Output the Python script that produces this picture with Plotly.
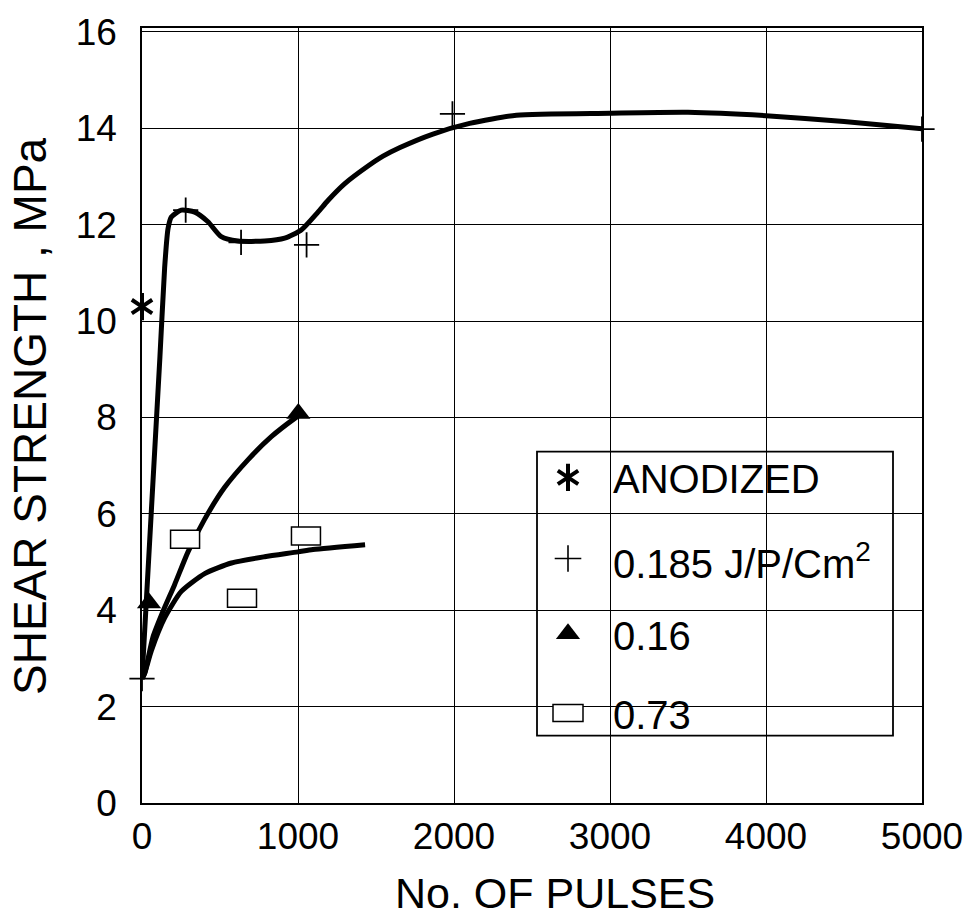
import plotly.graph_objects as go

# ---------------- data ----------------
# measured points
anod_x = [0]
anod_y = [10.3]

p185_x = [0, 280, 635, 1055, 1990, 5000]
p185_y = [2.58, 12.3, 11.63, 11.58, 14.3, 13.98]

p16_x = [45, 1002]
p16_y = [4.15, 8.08]

p73_x = [276, 641, 1051]
p73_y = [5.47, 4.25, 5.54]

# hand-drawn fit curves
c185_x = [0, 115, 145, 167, 188, 252, 338, 423, 508, 615, 786, 915, 1021, 1128, 1192, 1300, 1442, 1545, 1654, 1865, 2100, 2400, 3000, 3500, 4000, 4500, 5000]
c185_y = [2.58, 9.26, 11.1, 11.92, 12.16, 12.3, 12.26, 12.06, 11.75, 11.66, 11.66, 11.72, 11.89, 12.26, 12.5, 12.85, 13.2, 13.42, 13.6, 13.88, 14.1, 14.27, 14.31, 14.33, 14.26, 14.14, 13.99]

c16_x = [0, 17, 70, 135, 209, 295, 402, 530, 679, 829, 979, 1002]
c16_y = [2.58, 2.69, 3.44, 3.98, 4.53, 5.21, 5.89, 6.55, 7.12, 7.6, 7.98, 8.03]

c73_x = [0, 17, 60, 145, 252, 402, 573, 786, 1000, 1096, 1430]
c73_y = [2.58, 2.69, 3.16, 3.84, 4.39, 4.76, 4.98, 5.11, 5.21, 5.26, 5.36]

# axes / labels
x_ticks = [0, 1000, 2000, 3000, 4000, 5000]
y_ticks = [0, 2, 4, 6, 8, 10, 12, 14, 16]
legend_labels = ["ANODIZED", "0.185 J/P/Cm<sup>2</sup>", "0.16", "0.73"]
x_title = "No. OF PULSES"
y_title = "SHEAR STRENGTH , MPa"

FONT = "Liberation Sans, Arial, Helvetica, sans-serif"
INK = "black"

fig = go.Figure()

# curves
for cx, cy in [(c185_x, c185_y), (c16_x, c16_y), (c73_x, c73_y)]:
    fig.add_trace(go.Scatter(x=cx, y=cy, mode="lines",
                             line=dict(color=INK, width=5, shape="spline", smoothing=0.6),
                             showlegend=False, hoverinfo="skip", cliponaxis=False))

# markers
fig.add_trace(go.Scatter(x=p185_x, y=p185_y, mode="markers",
                         marker=dict(symbol="cross-thin-open", size=18, color=INK,
                                     line=dict(color=INK, width=1.8)),
                         showlegend=False, cliponaxis=False))
fig.add_trace(go.Scatter(x=p16_x, y=p16_y, mode="markers",
                         marker=dict(symbol="triangle-up", size=21, color=INK),
                         showlegend=False, cliponaxis=False))
for sym in ["y-up-open", "y-down-open"]:
    fig.add_trace(go.Scatter(x=anod_x, y=anod_y, mode="markers",
                             marker=dict(symbol=sym, size=17, color=INK,
                                         line=dict(color=INK, width=4)),
                             showlegend=False, cliponaxis=False))

# open rectangles for the 0.73 series (anchored at data values)
shapes = []
for xv, yv in zip(p73_x, p73_y):
    shapes.append(dict(type="rect", xref="x", yref="y",
                       xsizemode="pixel", ysizemode="pixel",
                       xanchor=xv, yanchor=yv,
                       x0=-14.5, x1=14.5, y0=-9, y1=9,
                       line=dict(color=INK, width=1.5), fillcolor="white",
                       layer="above"))

# ---------------- custom legend ----------------
W, H = 780.0, 783.0          # plot area size in px
X0, Y0 = 142.0, 803.0        # plot area left / bottom in px
def px(x):
    return (x - X0) / W
def py(y):
    return (Y0 - y) / H

shapes.append(dict(type="rect", xref="paper", yref="paper",
                   x0=px(537), x1=px(893), y0=py(735), y1=py(448),
                   line=dict(color=INK, width=1.8), fillcolor="white", layer="between"))

row_px = [474, 556, 632, 712]
sym_x = px(568)
# legend symbols on an overlay axis spanning [0,1]
for sym in ["y-up-open", "y-down-open"]:
    fig.add_trace(go.Scatter(x=[sym_x], y=[py(row_px[0])], xaxis="x2", yaxis="y2",
                             mode="markers", marker=dict(symbol=sym, size=17, color=INK,
                                                         line=dict(color=INK, width=4)),
                             showlegend=False, hoverinfo="skip"))
fig.add_trace(go.Scatter(x=[sym_x], y=[py(row_px[1])], xaxis="x2", yaxis="y2",
                         mode="markers", marker=dict(symbol="cross-thin-open", size=19, color=INK,
                                                     line=dict(color=INK, width=1.6)),
                         showlegend=False, hoverinfo="skip"))
fig.add_trace(go.Scatter(x=[sym_x], y=[py(row_px[2])], xaxis="x2", yaxis="y2",
                         mode="markers", marker=dict(symbol="triangle-up", size=21, color=INK),
                         showlegend=False, hoverinfo="skip"))
shapes.append(dict(type="rect", xref="paper", yref="paper",
                   xsizemode="pixel", ysizemode="pixel",
                   xanchor=sym_x, yanchor=py(row_px[3]),
                   x0=-15, x1=15, y0=-8.5, y1=8.5,
                   line=dict(color=INK, width=1.5), fillcolor="white", layer="above"))

annotations = []
for lab, ry in zip(legend_labels, row_px):
    annotations.append(dict(text=lab, xref="paper", yref="paper", x=px(611), y=py(ry + 2),
                            xanchor="left", yanchor="middle", showarrow=False,
                            font=dict(family=FONT, size=40, color=INK)))

annotations.append(dict(text=x_title, xref="paper", yref="paper", x=px(555), y=py(894),
                        xanchor="center", yanchor="middle", showarrow=False,
                        font=dict(family=FONT, size=43, color=INK)))
annotations.append(dict(text=y_title, xref="paper", yref="paper", x=px(30), y=py(412),
                        xanchor="center", yanchor="middle", showarrow=False, textangle=-90,
                        font=dict(family=FONT, size=46, color=INK)))

fig.update_layout(
    width=976, height=921,
    margin=dict(l=142, r=54, t=20, b=118),
    paper_bgcolor="white", plot_bgcolor="white",
    showlegend=False,
    font=dict(family=FONT, color=INK),
    shapes=shapes, annotations=annotations,
    xaxis=dict(range=[0, 5000], tickvals=x_ticks, ticktext=[str(v) for v in x_ticks],
               showgrid=True, gridcolor=INK, gridwidth=1.3, zeroline=False,
               showline=True, linecolor=INK, linewidth=1.6, mirror=True,
               ticks="", ticklabelstandoff=0,
               tickfont=dict(family=FONT, size=37, color=INK)),
    yaxis=dict(range=[0, 16.08], tickvals=y_ticks, ticktext=[str(v) for v in y_ticks],
               showgrid=True, gridcolor=INK, gridwidth=1.3, zeroline=False,
               showline=True, linecolor=INK, linewidth=1.6, mirror=True,
               ticks="", ticklabelstandoff=16,
               tickfont=dict(family=FONT, size=37, color=INK)),
    xaxis2=dict(range=[0, 1], overlaying="x", visible=False, fixedrange=True),
    yaxis2=dict(range=[0, 1], overlaying="y", visible=False, fixedrange=True),
)

fig.write_html("out.html", config={"displayModeBar": False},
               post_script="document.body.style.margin='0';")
